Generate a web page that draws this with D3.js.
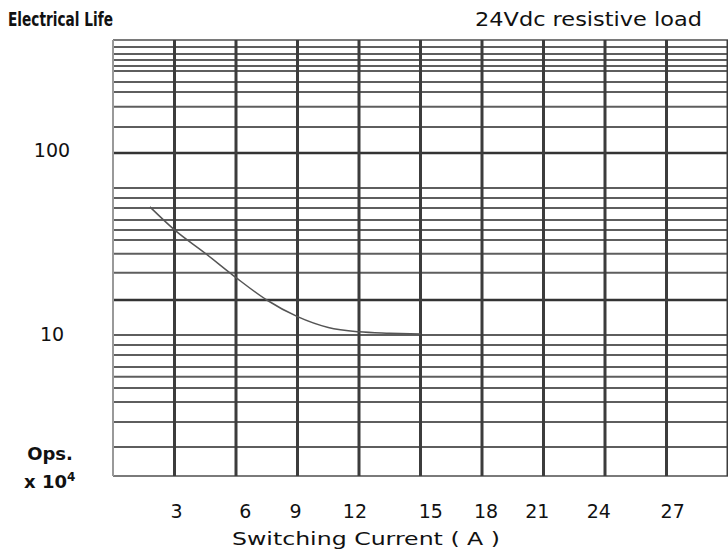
<!DOCTYPE html>
<html><head><meta charset="utf-8">
<script src="https://cdn.jsdelivr.net/npm/d3@7"></script>
<style>
html,body{margin:0;padding:0;background:#fff;}
svg{display:block;}
text{font-family:"DejaVu Sans","Liberation Sans",sans-serif;fill:#111;}
</style></head>
<body>
<svg id="chart" width="728" height="557"></svg>
<script>
// ---- data ----
const current = [1.8, 3, 4.5, 6, 7.5, 9, 10.5, 12, 13.5, 15];
const life    = [43, 30, 20.8, 14.2, 10, 7.7, 6.5, 6.08, 5.95, 5.87];

const xDomain = [0, 30];
const xGrid = [0, 3, 6, 9, 12, 15, 18, 21, 24, 27, 30];
const xTickText = ["3", "6", "9", "12", "15", "18", "21", "24", "27"];
const xTickAt   = [3.1, 6.45, 8.9, 11.8, 15.5, 18.2, 20.7, 23.7, 27.3];

const yDomain = [0.635, 587];
const yMajor = [10, 100];
const yGrid = [1, 1.48, 2.02, 2.52, 3, 3.5, 4.23, 4.94, 5.78,
               15.3, 20.6, 25.6, 29.9, 35, 42.3, 49.4, 57.8,
               150, 206, 260, 304, 361, 391, 429, 471, 526];
const yTickText = ["100", "10"];
const yTickAt   = [104, 5.9];

const title = "Electrical Life";
const subtitle = "24Vdc resistive load";
const xTitle = "Switching Current ( A )";

// ---- layout ----
const svg = d3.select("#chart");
const L = 113, R = 728, T = 40, B = 476;
const x = d3.scaleLinear().domain(xDomain).range([L, R]);
const y = d3.scaleLog().domain(yDomain).range([B, T]);

const g = svg.append("g");

// horizontal minor grid
g.selectAll("line.hmin").data(yGrid).enter().append("line")
  .attr("x1", L).attr("x2", R)
  .attr("y1", d => y(d)).attr("y2", d => y(d))
  .attr("stroke", "#5e5e5e").attr("stroke-width", 2);

// horizontal major grid
g.selectAll("line.hmaj").data(yMajor).enter().append("line")
  .attr("x1", L).attr("x2", R)
  .attr("y1", d => y(d)).attr("y2", d => y(d))
  .attr("stroke", "#333").attr("stroke-width", 2.5);

// top & bottom borders
g.selectAll("line.hb").data(yDomain).enter().append("line")
  .attr("x1", L).attr("x2", R)
  .attr("y1", d => y(d)).attr("y2", d => y(d))
  .attr("stroke", "#7a7a7a").attr("stroke-width", 2);

// vertical grid
g.selectAll("line.v").data(xGrid).enter().append("line")
  .attr("x1", d => x(d)).attr("x2", d => x(d))
  .attr("y1", T).attr("y2", B)
  .attr("stroke", d => d === 0 ? "#999" : "#3c3c3c")
  .attr("stroke-width", d => d === 0 ? 2 : 3);

// curve
const line = d3.line().x(d => x(d[0])).y(d => y(d[1])).curve(d3.curveMonotoneX);
g.append("path")
  .datum(current.map((c, i) => [c, life[i]]))
  .attr("d", line)
  .attr("fill", "none").attr("stroke", "#555").attr("stroke-width", 1.5);

// x tick labels
svg.selectAll("text.xt").data(xTickText).enter().append("text")
  .attr("x", (d, i) => x(xTickAt[i])).attr("y", 518)
  .attr("text-anchor", "middle").attr("font-size", 19)
  .text(d => d);

// y tick labels
svg.selectAll("text.yt").data(yTickText).enter().append("text")
  .attr("x", 52).attr("y", (d, i) => y(yTickAt[i]) + 7)
  .attr("text-anchor", "middle").attr("font-size", 19)
  .text(d => d);

// axis title
svg.append("text").attr("x", 366).attr("y", 545)
  .attr("text-anchor", "middle").attr("font-size", 18)
  .attr("textLength", 268).attr("lengthAdjust", "spacingAndGlyphs")
  .text(xTitle);

// titles
svg.append("text").attr("x", 8).attr("y", 26)
  .attr("font-size", 19).attr("font-weight", "bold")
  .attr("textLength", 105).attr("lengthAdjust", "spacingAndGlyphs")
  .text(title);
svg.append("text").attr("x", 475).attr("y", 26)
  .attr("font-size", 19)
  .attr("textLength", 227).attr("lengthAdjust", "spacingAndGlyphs")
  .text(subtitle);

// unit label
svg.append("text").attr("x", 50).attr("y", 460)
  .attr("text-anchor", "middle").attr("font-size", 18).attr("font-weight", "bold")
  .text("Ops.");
const u = svg.append("text").attr("x", 24).attr("y", 488)
  .attr("font-size", 18).attr("font-weight", "bold");
u.append("tspan").text("x 10");
u.append("tspan").attr("dy", -7).attr("font-size", 12).text("4");
</script>
</body></html>
